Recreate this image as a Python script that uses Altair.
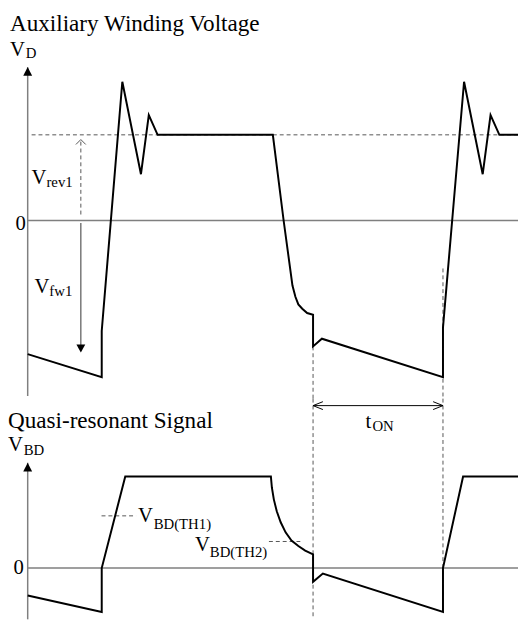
import altair as alt
import pandas as pd

# ---------------- data (time in % of window, voltage in arbitrary units) ----------------
# Auxiliary winding voltage V_D
aux_t = [0, 15.1, 15.1, 19.3, 23.1, 24.7, 26.5, 50.0, 52.2, 54.0, 54.6, 55.2, 56.0,
         57.0, 58.2, 58.2, 60.0, 84.7, 84.7, 89.0, 92.8, 94.4, 96.2, 100]
aux_v = [-15.6, -18.3, -12.9, 16.2, 5.4, 12.3, 10, 10, 0, -7.6, -8.9, -9.8, -10.3,
         -10.8, -11.0, -14.7, -13.8, -18.3, -12.5, 16.2, 5.4, 12.3, 10, 10]
v_rev1 = 10

# Quasi-resonant signal V_BD
qr_t = [0, 15.1, 15.1, 19.9, 49.6, 49.8, 50.2, 50.8, 51.6, 52.6, 53.8, 55.2, 56.6,
        58.2, 58.2, 60.2, 84.7, 84.7, 88.8, 100]
qr_v = [-3.0, -4.8, 0, 10, 10, 8.8, 7.5, 6.2, 5.0, 3.9, 3.0, 2.4, 1.9,
        1.5, -1.5, -0.6, -4.8, 0, 10, 10]
v_bd_th1 = 5.7
v_bd_th2 = 2.9
t_on_start, t_on_end = 58.2, 84.7

# ---------------- layout ----------------
W, H = 518, 616
X0, PX_T = 20, 4.98
TOP_ZERO, TOP_PX = 211, 8.7
BOT_ZERO, BOT_PX = 564, 9.3

xs = alt.Scale(domain=[-X0 / PX_T, (W - X0) / PX_T], nice=False, zero=False)
top_s = alt.Scale(domain=[(TOP_ZERO - H) / TOP_PX, TOP_ZERO / TOP_PX], nice=False, zero=False)
bot_s = alt.Scale(domain=[(BOT_ZERO - H) / BOT_PX, BOT_ZERO / BOT_PX], nice=False, zero=False)
SC = {"top": top_s, "bot": bot_s}
FONT = "Liberation Serif"
GRAY = "#7f7f7f"
DGRAY = "#555555"


def X(f="t"):
    return alt.X(f"{f}:Q", scale=xs, axis=None)


def Y(panel, f="v"):
    return alt.Y(f"{f}:Q", scale=SC[panel], axis=None)


def rules(panel, rows, **style):
    df = pd.DataFrame(rows, columns=["t", "t2", "v", "v2"])
    return alt.Chart(df).mark_rule(**style).encode(
        x=X(), x2="t2:Q", y=Y(panel), y2="v2:Q")


def wave(panel, t, v):
    df = pd.DataFrame({"t": t, "v": v, "i": range(len(t))})
    return alt.Chart(df).mark_line(color="black", strokeWidth=2, strokeJoin="miter").encode(
        x=X(), y=Y(panel), order="i:Q")


def sym(panel, rows, shape, size, filled, color, sw=1.0):
    df = pd.DataFrame(rows, columns=["t", "v"])
    if filled:
        m = alt.Chart(df).mark_point(shape=shape, size=size, filled=True, color=color,
                                     opacity=1, strokeWidth=0)
    else:
        m = alt.Chart(df).mark_point(shape=shape, size=size, filled=False, color=color,
                                     opacity=1, strokeWidth=sw)
    return m.encode(x=X(), y=Y(panel))


def texts(panel, rows, align="left", font=FONT):
    df = pd.DataFrame(rows, columns=["text", "t", "v", "fs"])
    return alt.Chart(df).mark_text(font=font, align=align, baseline="alphabetic",
                                   color="black").encode(
        x=X(), y=Y(panel), text="text:N", size=alt.Size("fs:Q", scale=None, legend=None))


SPLIT_TOP, SPLIT_BOT = -20.8, 18.5
dash = dict(color=DGRAY, strokeWidth=1, strokeDash=[4, 3])

layers = [
    # ---------- top panel ----------
    rules("top", [[0, 0, 17.9, -20.5], [0, 100, 0, 0]], color=GRAY, strokeWidth=1.5),
    rules("top", [[0.8, 100, v_rev1, v_rev1],
                  [10.84, 10.84, 0.7, 9.4],
                  [t_on_start, t_on_start, -14.7, SPLIT_TOP],
                  [t_on_end, t_on_end, -5.6, SPLIT_TOP]], **dash),
    rules("top", [[10.84, 10.84, -0.3, -15.0]], color="#555555", strokeWidth=1.2),
    sym("top", [[10.84, v_rev1 - 0.55]], "M-1,1L0,0L1,1", 100, False, DGRAY, 1),
    sym("top", [[10.84, -15.4]], "M-1,-1.8L1,-1.8L0,0Z", 81, True, "black"),
    sym("top", [[0, 17.93]], "M-1,2L1,2L0,0Z", 81, True, "black"),
    wave("top", aux_t, aux_v),
    texts("top", [["Auxiliary Winding Voltage", -3.61, 22.07, 23.5],
                  ["V", -3.61, 19.2, 21], ["D", -0.4, 18.97, 15],
                  ["V", 0.8, 4.25, 21], ["rev1", 3.82, 3.91, 15],
                  ["V", 1.41, -8.51, 21], ["fw1", 4.42, -8.85, 15]]),
    texts("top", [["0", -0.4, -1.15, 21]], align="right"),
    # ---------- bottom panel ----------
    rules("bot", [[0, 0, 11.5, -5.6], [0, 100, 0, 0]], color=GRAY, strokeWidth=1.5),
    rules("bot", [[t_on_start, t_on_start, SPLIT_BOT, -5.4],
                  [t_on_end, t_on_end, SPLIT_BOT, -4.8],
                  [15.06, 22.1, v_bd_th1, v_bd_th1],
                  [49.2, 55.6, v_bd_th2, v_bd_th2]], **dash),
    rules("bot", [[t_on_start, t_on_end, 17.74, 17.74]], color="black", strokeWidth=1),
    sym("bot", [[t_on_start, 17.74]], "M2,-0.8L0,0L2,0.8", 100, False, "black", 1),
    sym("bot", [[t_on_end, 17.74]], "M-2,-0.8L0,0L-2,0.8", 100, False, "black", 1),
    sym("bot", [[0, 11.5]], "M-1,2L1,2L0,0Z", 81, True, "black"),
    wave("bot", qr_t, qr_v),
    texts("bot", [["Quasi-resonant Signal", -4.02, 15.27, 23.5],
                  ["V", -4.02, 12.8, 21], ["BD", -0.8, 12.37, 15],
                  ["V", 22.49, 5.05, 21], ["BD(TH1)", 25.7, 4.3, 15],
                  ["V", 34.14, 1.83, 21], ["BD(TH2)", 37.15, 1.18, 15],
                  ["t", 68.9, 15.27, 21], ["ON", 70.3, 14.95, 15]]),
    texts("bot", [["0", -0.8, -0.65, 21]], align="right"),
]

chart = alt.layer(*layers).resolve_scale(y="independent").properties(
    width=W, height=H,
    autosize=alt.AutoSizeParams(type="none"),
    padding=0,
    background="white",
).configure_view(stroke=None, strokeWidth=0)

chart.save("out.html", embed_options={"renderer": "svg", "actions": False})
